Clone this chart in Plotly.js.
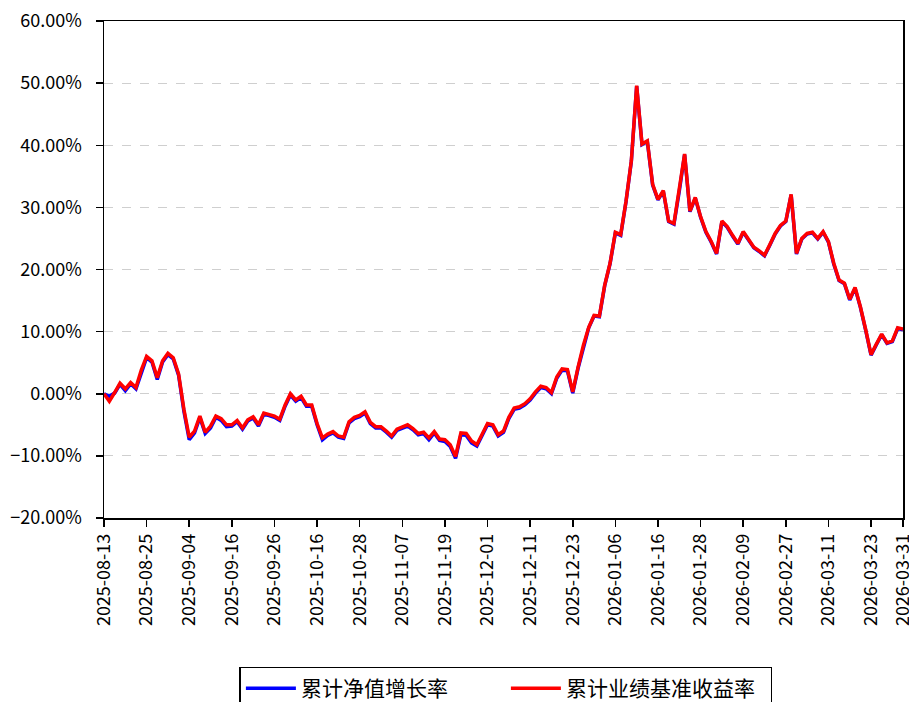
<!DOCTYPE html>
<html>
<head>
<meta charset="utf-8">
<script src="https://cdn.plot.ly/plotly-3.0.1.min.js"></script>
<style>
html, body { margin: 0; padding: 0; background: #ffffff; }
#chart { width: 909px; height: 702px; }
</style>
</head>
<body>
<div id="chart"></div>
<script>
// Trading dates (category axis)
var dates = [
  "2025-08-13","2025-08-14","2025-08-15","2025-08-18","2025-08-19","2025-08-20","2025-08-21","2025-08-22","2025-08-25","2025-08-26","2025-08-27","2025-08-28","2025-08-29",
  "2025-09-01","2025-09-02","2025-09-03","2025-09-04","2025-09-05","2025-09-08","2025-09-09","2025-09-10","2025-09-11","2025-09-12","2025-09-15","2025-09-16","2025-09-17","2025-09-18","2025-09-19","2025-09-22","2025-09-23","2025-09-24","2025-09-25","2025-09-26","2025-09-29","2025-09-30",
  "2025-10-09","2025-10-10","2025-10-13","2025-10-14","2025-10-15","2025-10-16","2025-10-17","2025-10-20","2025-10-21","2025-10-22","2025-10-23","2025-10-24","2025-10-27","2025-10-28","2025-10-29","2025-10-30","2025-10-31",
  "2025-11-03","2025-11-04","2025-11-05","2025-11-06","2025-11-07","2025-11-10","2025-11-11","2025-11-12","2025-11-13","2025-11-14","2025-11-17","2025-11-18","2025-11-19","2025-11-20","2025-11-21","2025-11-24","2025-11-25","2025-11-26","2025-11-27","2025-11-28",
  "2025-12-01","2025-12-02","2025-12-03","2025-12-04","2025-12-05","2025-12-08","2025-12-09","2025-12-10","2025-12-11","2025-12-12","2025-12-15","2025-12-16","2025-12-17","2025-12-18","2025-12-19","2025-12-22","2025-12-23","2025-12-24","2025-12-25","2025-12-26","2025-12-29","2025-12-30","2025-12-31",
  "2026-01-05","2026-01-06","2026-01-07","2026-01-08","2026-01-09","2026-01-12","2026-01-13","2026-01-14","2026-01-15","2026-01-16","2026-01-19","2026-01-20","2026-01-21","2026-01-22","2026-01-23","2026-01-26","2026-01-27","2026-01-28","2026-01-29","2026-01-30",
  "2026-02-02","2026-02-03","2026-02-04","2026-02-05","2026-02-06","2026-02-09","2026-02-10","2026-02-11","2026-02-12","2026-02-13","2026-02-24","2026-02-25","2026-02-26","2026-02-27",
  "2026-03-02","2026-03-03","2026-03-04","2026-03-05","2026-03-06","2026-03-09","2026-03-10","2026-03-11","2026-03-12","2026-03-13","2026-03-16","2026-03-17","2026-03-18","2026-03-19","2026-03-20","2026-03-23","2026-03-24","2026-03-25","2026-03-26","2026-03-27","2026-03-30","2026-03-31"
];

// 累计业绩基准收益率 (%)
var benchmarkReturn = [
  0.0,-1.2,0.2,1.7,0.8,1.8,1.0,3.8,6.0,5.3,2.6,5.3,6.5,
  5.8,3.2,-2.5,-7.0,-6.0,-3.6,-6.2,-5.2,-3.6,-4.0,-5.0,-5.0,-4.3,-5.5,-4.2,-3.7,-5.0,-3.1,-3.3,-3.6,-4.1,-1.8,
  0.0,-1.0,-0.4,-1.8,-1.8,-4.8,-7.1,-6.5,-6.1,-6.8,-7.0,-4.5,-3.8,-3.5,-2.9,-4.6,-5.3,
  -5.3,-6.0,-6.8,-5.7,-5.4,-5.0,-5.6,-6.4,-6.2,-7.1,-6.1,-7.3,-7.4,-8.2,-10.1,-6.3,-6.4,-7.6,-8.2,-6.5,
  -4.8,-5.0,-6.6,-6.0,-3.8,-2.3,-2.1,-1.6,-0.8,0.3,1.2,1.0,0.2,2.7,4.0,3.9,0.3,4.3,7.8,10.7,12.6,12.5,17.5,
  21.0,26.0,25.6,31.0,37.5,49.6,40.2,40.7,33.7,31.3,32.7,27.8,27.4,32.7,38.6,29.4,31.6,28.5,26.1,24.5,
  22.6,27.8,26.9,25.5,24.2,26.1,24.8,23.6,23.0,22.3,24.0,25.8,27.1,27.8,
  32.1,22.6,25.0,25.8,26.0,25.0,26.1,24.5,21.0,18.3,17.8,15.2,17.1,14.0,10.3,6.3,8.0,9.6,8.2,8.5,10.6,10.4
];

// 累计净值增长率 (%)
var navGrowth = [
  0.0,-0.4,0.1,1.5,0.5,1.6,0.8,3.5,5.8,5.1,2.3,5.1,6.3,
  5.6,3.0,-2.8,-7.4,-6.3,-3.8,-6.4,-5.5,-3.8,-4.3,-5.3,-5.2,-4.5,-5.7,-4.4,-3.9,-5.2,-3.3,-3.5,-3.8,-4.3,-2.0,
  -0.2,-1.2,-0.6,-2.0,-2.0,-5.0,-7.4,-6.7,-6.3,-7.0,-7.2,-4.7,-4.0,-3.7,-3.1,-4.8,-5.5,
  -5.5,-6.2,-7.0,-5.9,-5.6,-5.2,-5.8,-6.6,-6.4,-7.4,-6.3,-7.5,-7.7,-8.5,-10.4,-6.6,-6.7,-7.9,-8.4,-6.7,
  -5.0,-5.2,-6.8,-6.2,-4.0,-2.5,-2.3,-1.8,-1.0,0.1,1.0,0.8,0.0,2.5,3.8,3.7,0.1,4.1,7.6,10.6,12.5,12.4,17.4,
  20.9,25.9,25.5,30.9,37.4,49.5,40.1,40.6,33.6,31.2,32.6,27.7,27.3,32.6,38.5,29.3,31.5,28.4,26.0,24.4,
  22.5,27.7,26.8,25.4,24.1,26.0,24.7,23.5,22.9,22.2,23.9,25.7,27.0,27.7,
  32.0,22.5,24.9,25.7,25.9,24.9,26.0,24.4,20.9,18.2,17.7,15.1,17.0,13.9,10.2,6.2,7.9,9.5,8.1,8.4,10.5,10.3
];

var tickDates = ["2025-08-13","2025-08-25","2025-09-04","2025-09-16","2025-09-26","2025-10-16","2025-10-28","2025-11-07","2025-11-19","2025-12-01","2025-12-11","2025-12-23","2026-01-06","2026-01-16","2026-01-28","2026-02-09","2026-02-27","2026-03-11","2026-03-23","2026-03-31"];

var seriesNames = ["累计净值增长率", "累计业绩基准收益率"];

var fontFam = '"Noto Sans CJK SC", "Liberation Sans", sans-serif';

var traces = [
  {x: dates, y: navGrowth, name: seriesNames[0], type: 'scatter', mode: 'lines',
   line: {color: '#0000ff', width: 3.5}},
  {x: dates, y: benchmarkReturn, name: seriesNames[1], type: 'scatter', mode: 'lines',
   line: {color: '#ff0000', width: 3.5}}
];

var layout = {
  width: 909, height: 702,
  margin: {l: 104, r: 6, t: 21, b: 184, pad: 0, autoexpand: false},
  paper_bgcolor: '#ffffff', plot_bgcolor: '#ffffff',
  font: {family: fontFam, color: '#000000'},
  showlegend: true,
  xaxis: {
    type: 'category', range: [0, 150],
    tickmode: 'array', tickvals: tickDates, ticktext: tickDates,
    tickangle: -90,
    showline: true, mirror: true, linecolor: '#000000', linewidth: 1.5,
    ticks: 'outside', ticklen: 7, tickwidth: 1.5, tickcolor: '#000000',
    showgrid: false, zeroline: false,
    tickfont: {family: fontFam, size: 18, color: '#000000'}
  },
  yaxis: {
    range: [-20, 60], tick0: 0, dtick: 10,
    tickformat: '.2f', ticksuffix: '%',
    showline: true, mirror: true, linecolor: '#000000', linewidth: 1.5,
    ticks: 'outside', ticklen: 7, tickwidth: 1.5, tickcolor: '#000000',
    showgrid: true, gridcolor: '#cfcfcf', griddash: 'dash', gridwidth: 1,
    zeroline: false, ticklabelstandoff: 10,
    tickfont: {family: fontFam, size: 18, color: '#000000'}
  },
  legend: {
    orientation: 'h', x: 0.503, xanchor: 'center', y: -0.299, yanchor: 'top',
    bordercolor: '#000000', borderwidth: 1.5, bgcolor: '#ffffff',
    font: {family: fontFam, size: 21, color: '#000000'},
    itemwidth: 50, entrywidth: 200
  }
};

Plotly.newPlot('chart', traces, layout, {displayModeBar: false, staticPlot: true});
</script>
</body>
</html>
